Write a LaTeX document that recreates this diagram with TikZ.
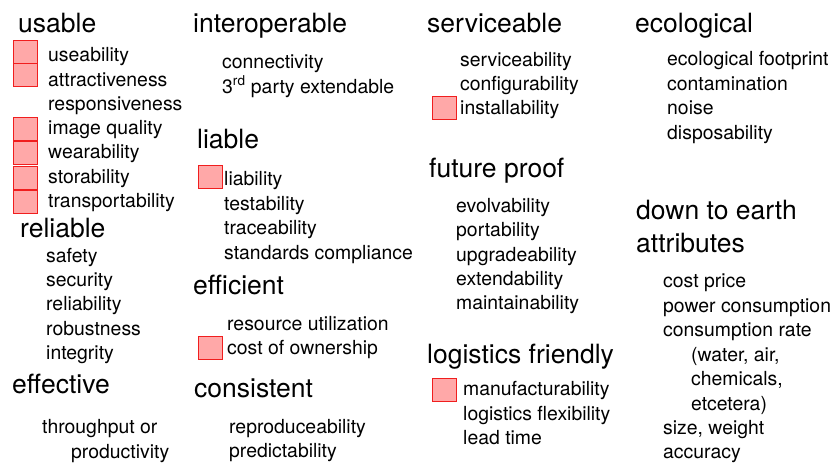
\documentclass[tikz,border=0pt]{standalone}
\usepackage{fontspec}
\setmainfont{TeX Gyre Heros}
\definecolor{boxfill}{RGB}{255,168,168}
\definecolor{boxline}{RGB}{240,30,30}
\begin{document}
\begin{tikzpicture}[x=1pt,y=-1pt,
  head/.style={anchor=base west,inner sep=0pt,font=\fontsize{26.5}{30}\selectfont},
  item/.style={anchor=base west,inner sep=0pt,font=\fontsize{19.4}{24}\selectfont},
  redbox/.style={draw=boxline,fill=boxfill,line width=0.9pt,inner sep=0pt,minimum width=24pt,minimum height=23pt}]
\useasboundingbox (0,0) rectangle (834,467);
% column 1
\node[head] (usable) at (18,32) {usable};
\node[redbox] (bu1) at (25,52) {};
\node[redbox] (bu2) at (25,75) {};
\node[redbox] (bu3) at (25,128.5) {};
\node[redbox] (bu4) at (25,152.5) {};
\node[redbox] (bu5) at (25,177.5) {};
\node[redbox] (bu6) at (25,201.5) {};
\node[item] (u1) at (48,61) {useability};
\node[item] (u2) at (48,86) {attractiveness};
\node[item] (u3) at (48,110) {responsiveness};
\node[item] (u4) at (48,134) {image quality};
\node[item] (u5) at (48,158) {wearability};
\node[item] (u6) at (48,183) {storability};
\node[item] (u7) at (48,207) {transportability};
\node[head] (reliable) at (20,237) {reliable};
\node[item] (r1) at (46,262) {safety};
\node[item] (r2) at (46,286) {security};
\node[item] (r3) at (46,310) {reliability};
\node[item] (r4) at (46,335) {robustness};
\node[item] (r5) at (46,359) {integrity};
\node[head] (effective) at (12,393) {effective};
\node[item] (e1) at (42,433) {throughput or};
\node[item] (e2) at (71,458) {productivity};
% column 2
\node[head] (interop) at (193,32) {interoperable};
\node[item] (i1) at (222,68) {connectivity};
\node[item] (i2) at (222,93) {3\textsuperscript{rd} party extendable};
\node[head] (liable) at (197,148) {liable};
\node[redbox] (bl1) at (210,176.5) {};
\node[item] (l1) at (224,185) {liability};
\node[item] (l2) at (224,210) {testability};
\node[item] (l3) at (224,234.5) {traceability};
\node[item] (l4) at (224,259) {standards compliance};
\node[head] (efficient) at (193,294) {efficient};
\node[item] (f1) at (227,330) {resource utilization};
\node[redbox] (bf1) at (210,348) {};
\node[item] (f2) at (227,354.5) {cost of ownership};
\node[head] (consistent) at (194,397) {consistent};
\node[item] (c1) at (229,433) {reproduceability};
\node[item] (c2) at (229,457) {predictability};
% column 3
\node[head] (serviceable) at (427,32) {serviceable};
\node[item] (s1) at (460,66) {serviceability};
\node[item] (s2) at (460,90) {configurability};
\node[redbox] (bs1) at (444,107.5) {};
\node[item] (s3) at (460,114) {installability};
\node[head] (future) at (429,177) {future proof};
\node[item] (p1) at (456,212) {evolvability};
\node[item] (p2) at (456,236.5) {portability};
\node[item] (p3) at (456,261) {upgradeability};
\node[item] (p4) at (456,285) {extendability};
\node[item] (p5) at (456,309.5) {maintainability};
\node[head] (logistics) at (427,363) {logistics friendly};
\node[redbox] (bg1) at (444,389.5) {};
\node[item] (g1) at (463,395) {manufacturability};
\node[item] (g2) at (463,420) {logistics flexibility};
\node[item] (g3) at (463,444) {lead time};
% column 4
\node[head] (ecological) at (635,32) {ecological};
\node[item] (o1) at (667,65.5) {ecological footprint};
\node[item] (o2) at (667,90) {contamination};
\node[item] (o3) at (667,114.5) {noise};
\node[item] (o4) at (667,139) {disposability};
\node[head] (down1) at (636,219) {down to earth};
\node[head] (down2) at (636,252) {attributes};
\node[item] (d1) at (663,287) {cost price};
\node[item] (d2) at (663,312) {power consumption};
\node[item] (d3) at (663,336.5) {consumption rate};
\node[item] (d4) at (691,361) {(water, air,};
\node[item] (d5) at (691,385.5) {chemicals,};
\node[item] (d6) at (691,410) {etcetera)};
\node[item] (d7) at (663,434.5) {size, weight};
\node[item] (d8) at (663,458.5) {accuracy};
\end{tikzpicture}
\end{document}
